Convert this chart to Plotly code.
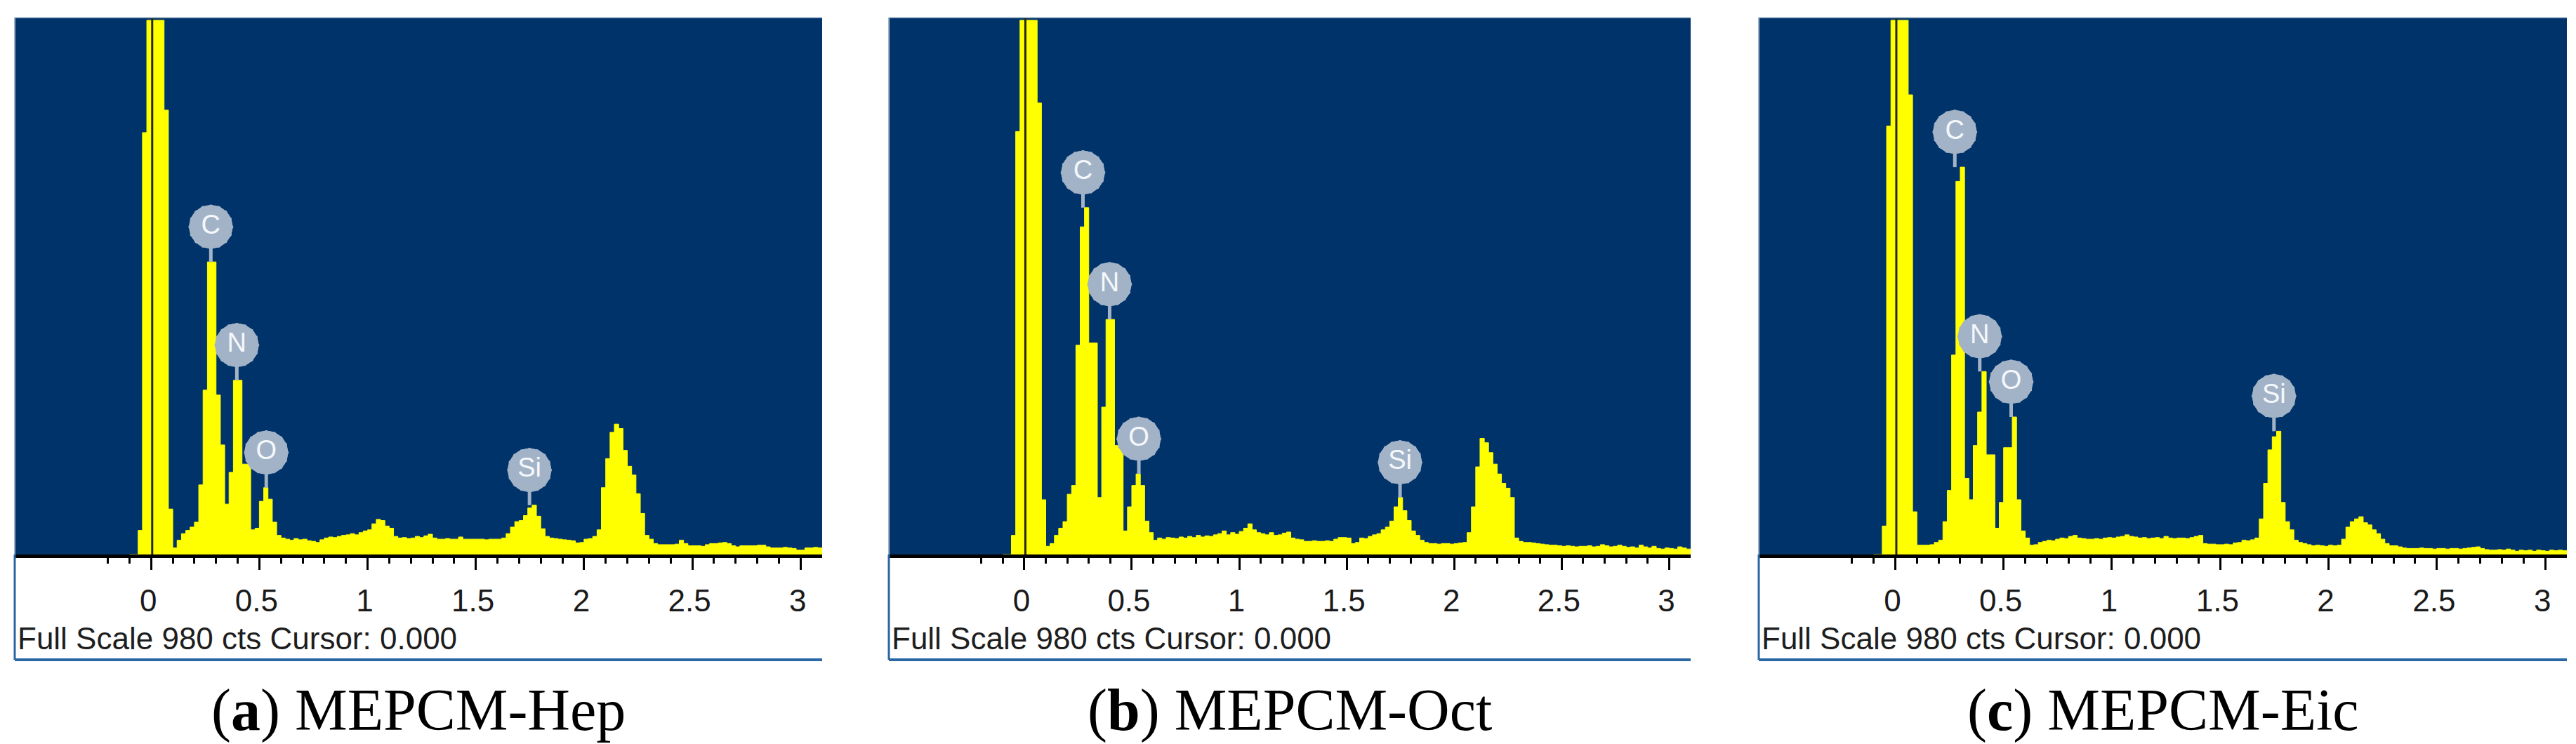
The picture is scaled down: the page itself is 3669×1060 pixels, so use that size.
import numpy as np
import plotly.graph_objects as go

# ---------------- data ----------------
FULL_SCALE = 980          # cts
ENERGY_START = -0.10      # keV, left edge of first channel
CHANNEL_WIDTH = 0.02      # keV

hep_counts = [
    0, 0, 44, 770, 975, 975, 975, 975, 811, 83,
    12, 26, 38, 44, 50, 59, 127, 300, 534, 534,
    291, 200, 92, 150, 318, 318, 165, 165, 45, 48,
    97, 122, 101, 59, 35, 30, 28, 26, 29, 27,
    28, 25, 24, 22, 27, 30, 32, 31, 33, 35,
    36, 38, 36, 40, 43, 45, 56, 64, 62, 52,
    48, 33, 30, 31, 29, 30, 33, 31, 34, 37,
    30, 28, 28, 29, 28, 28, 32, 28, 28, 28,
    28, 28, 27, 28, 28, 28, 30, 38, 50, 60,
    62, 71, 85, 90, 70, 47, 33, 30, 29, 28,
    27, 26, 25, 21, 22, 28, 29, 33, 45, 122,
    175, 223, 238, 230, 190, 161, 145, 111, 75, 35,
    28, 20, 18, 18, 18, 18, 19, 26, 20, 16,
    16, 16, 15, 18, 20, 20, 21, 22, 20, 16,
    14, 16, 16, 16, 16, 17, 17, 14, 12, 12,
    12, 13, 12, 11, 8, 8, 12, 12, 13, 12,
    12,
]

oct_counts = [
    0, 0, 35, 772, 975, 975, 975, 975, 824, 100,
    15, 20, 35, 48, 60, 110, 126, 382, 598, 633,
    386, 386, 104, 269, 429, 429, 199, 199, 43, 87,
    126, 147, 126, 61, 40, 26, 30, 28, 31, 30,
    29, 32, 30, 33, 31, 35, 32, 34, 33, 36,
    38, 43, 36, 40, 37, 42, 48, 56, 45, 40,
    38, 36, 40, 35, 36, 39, 41, 30, 28, 27,
    24, 24, 25, 24, 24, 25, 24, 28, 31, 31,
    30, 20, 22, 30, 29, 33, 36, 38, 45, 50,
    61, 87, 104, 80, 62, 43, 35, 26, 22, 20,
    20, 19, 20, 20, 19, 20, 21, 22, 40, 87,
    160, 212, 204, 186, 165, 147, 130, 121, 104, 30,
    24, 22, 22, 21, 20, 19, 18, 17, 17, 16,
    15, 16, 15, 14, 15, 15, 16, 14, 15, 18,
    16, 14, 15, 17, 15, 13, 14, 12, 17, 14,
    12, 15, 11, 10, 12, 11, 10, 14, 12, 10,
    10,
]

eic_counts = [
    0, 0, 52, 782, 975, 975, 975, 975, 839, 78,
    17, 17, 17, 18, 22, 26, 60, 117, 364, 681,
    707, 139, 100, 199, 260, 334, 182, 182, 48, 95,
    195, 195, 251, 100, 43, 30, 17, 18, 22, 24,
    26, 25, 28, 30, 29, 33, 35, 30, 29, 28,
    28, 29, 28, 30, 31, 30, 32, 33, 36, 33,
    32, 30, 31, 29, 30, 31, 29, 33, 30, 29,
    30, 30, 29, 31, 33, 35, 20, 19, 19, 18,
    18, 19, 18, 21, 22, 26, 25, 27, 30, 65,
    130, 191, 215, 225, 95, 60, 45, 26, 22, 20,
    18, 16, 17, 16, 15, 17, 16, 17, 28, 50,
    60, 65, 69, 58, 54, 45, 38, 28, 20, 16,
    16, 14, 12, 11, 11, 11, 12, 11, 11, 10,
    11, 11, 10, 11, 11, 10, 11, 12, 13, 14,
    11, 9, 8, 8, 9, 8, 10, 8, 6, 8,
    7, 8, 6, 8, 7, 6, 8, 7, 8, 7,
    8,
]

elements = ["C", "N", "O", "Si"]
hep_label_kev = [0.276, 0.396, 0.532, 1.748]
oct_label_kev = [0.273, 0.397, 0.533, 1.748]
eic_label_kev = [0.275, 0.390, 0.535, 1.748]

captions = ["(<b>a</b>) MEPCM-Hep", "(<b>b</b>) MEPCM-Oct", "(<b>c</b>) MEPCM-Eic"]
footer_text = "Full Scale 980 cts Cursor: 0.000"
cursor_kev = 0.005

major_ticks = [0, 0.5, 1, 1.5, 2, 2.5, 3]
major_tick_text = ["0", "0.5", "1", "1.5", "2", "2.5", "3"]
minor_ticks = [-0.2, -0.1, 0.1, 0.2, 0.3, 0.4, 0.6, 0.7, 0.8, 0.9,
               1.1, 1.2, 1.3, 1.4, 1.6, 1.7, 1.8, 1.9,
               2.1, 2.2, 2.3, 2.4, 2.6, 2.7, 2.8, 2.9]
x_range = [-0.63, 3.10]

# ---------------- layout geometry (pixels) ----------------
W, H = 3669, 1060
panel_left = [13, 1258, 2497]
panel_right = [1163, 2400, 3648]
PLOT_TOP, AXIS_Y, BOX_BOTTOM = 17, 782, 932
FOOTER_Y, CAPTION_Y = 901, 1004
LABEL_LIFT = 50 * FULL_SCALE / (AXIS_Y - PLOT_TOP)  # 50 px above peak, in counts


def fx(px):
    return px / W


def fy(py):
    return 1 - py / H


BLUE = "#01336b"
YELLOW = "#ffff00"
BADGE = "#a3b3c7"
SANS = "Liberation Sans, Arial, sans-serif"
SERIF = "Liberation Serif, Times New Roman, serif"

fig = go.Figure()
panels = [(hep_counts, hep_label_kev), (oct_counts, oct_label_kev), (eic_counts, eic_label_kev)]

shapes = []
annotations = []
for i, (counts, label_kev) in enumerate(panels):
    sfx = "" if i == 0 else str(i + 1)
    xa, ya = "x" + sfx, "y" + sfx
    energy = np.round(ENERGY_START + CHANNEL_WIDTH * np.arange(len(counts)), 3)
    counts_arr = np.array(counts, dtype=float)

    fig.add_trace(go.Scatter(
        x=energy, y=counts_arr, mode="lines",
        line=dict(shape="hv", color=YELLOW, width=1),
        fill="tozeroy", fillcolor=YELLOW,
        xaxis=xa, yaxis=ya, hoverinfo="skip", showlegend=False))

    # peak tops under each element label
    peak_y = []
    for e in label_kev:
        mask = (energy >= e - 0.04) & (energy <= e + 0.03)
        peak_y.append(float(counts_arr[mask].max()))
    badge_y = [p + LABEL_LIFT for p in peak_y]

    sx, sy = [], []
    for e, p, b in zip(label_kev, peak_y, badge_y):
        sx += [e, e, None]
        sy += [p, b, None]
    fig.add_trace(go.Scatter(x=sx, y=sy, mode="lines",
                             line=dict(color=BADGE, width=5),
                             xaxis=xa, yaxis=ya, hoverinfo="skip", showlegend=False))
    for sym, ang, size in [("octagon", 0, 64), ("octagon", 22.5, 64), ("circle", 0, 62)]:
        fig.add_trace(go.Scatter(
            x=label_kev, y=badge_y, mode="markers",
            marker=dict(symbol=sym, angle=ang, size=size, color=BADGE, line=dict(width=0)),
            xaxis=xa, yaxis=ya, hoverinfo="skip", showlegend=False))
    fig.add_trace(go.Scatter(
        x=label_kev, y=badge_y, mode="text", text=elements,
        textposition="middle center",
        textfont=dict(family=SANS, size=38, color="#f5f8fb"),
        xaxis=xa, yaxis=ya, hoverinfo="skip", showlegend=False))

    fig.update_layout(**{
        "xaxis" + sfx: dict(
            domain=[fx(panel_left[i]), fx(panel_right[i])], range=x_range,
            anchor=ya, showgrid=False, zeroline=False,
            showline=True, linecolor="black", linewidth=5,
            ticks="outside", ticklen=17, tickwidth=3, tickcolor="black",
            tickvals=major_ticks, ticktext=major_tick_text,
            tickfont=dict(family=SANS, size=44, color="#1a1a1a"),
            ticklabelshift=-4, ticklabelstandoff=6,
            minor=dict(tickvals=minor_ticks, ticks="outside", ticklen=8,
                       tickwidth=3, tickcolor="black", showgrid=False),
            fixedrange=True),
        "yaxis" + sfx: dict(
            domain=[fy(AXIS_Y), fy(PLOT_TOP)], range=[0, FULL_SCALE],
            anchor=xa, visible=False, showgrid=False, zeroline=False, fixedrange=True),
    })

    # cursor
    shapes.append(dict(type="line", xref=xa, yref=ya + " domain",
                       x0=cursor_kev, x1=cursor_kev, y0=0, y1=1,
                       line=dict(color="#262616", width=3)))
    l, r = panel_left[i], panel_right[i]
    # frame
    shapes.append(dict(type="line", xref="paper", yref="paper",
                       x0=fx(l), x1=fx(r), y0=fy(PLOT_TOP), y1=fy(PLOT_TOP),
                       line=dict(color="#a9bcd0", width=2)))
    shapes.append(dict(type="line", xref="paper", yref="paper",
                       x0=fx(l), x1=fx(l), y0=fy(PLOT_TOP), y1=fy(AXIS_Y),
                       line=dict(color="#9db3cb", width=2)))
    shapes.append(dict(type="line", xref="paper", yref="paper",
                       x0=fx(l), x1=fx(l), y0=fy(AXIS_Y), y1=fy(BOX_BOTTOM),
                       line=dict(color="#2a65a0", width=3)))
    shapes.append(dict(type="line", xref="paper", yref="paper",
                       x0=fx(l), x1=fx(r), y0=fy(BOX_BOTTOM), y1=fy(BOX_BOTTOM),
                       line=dict(color="#2b68a3", width=4)))

    annotations.append(dict(xref="paper", yref="paper", x=fx(l + 2), y=fy(FOOTER_Y),
                            xanchor="left", yanchor="middle", showarrow=False,
                            text=footer_text,
                            font=dict(family=SANS, size=44, color="#1e1e1e")))
    annotations.append(dict(xref="paper", yref="paper", x=fx((l + r) / 2), y=fy(CAPTION_Y),
                            xanchor="center", yanchor="middle", showarrow=False,
                            text=captions[i],
                            font=dict(family=SERIF, size=84, color="black")))

fig.update_layout(
    width=W, height=H, margin=dict(l=0, r=0, t=0, b=0),
    paper_bgcolor="white", plot_bgcolor=BLUE,
    shapes=shapes, annotations=annotations,
    showlegend=False, hovermode=False,
)

fig.write_html("out.html")
